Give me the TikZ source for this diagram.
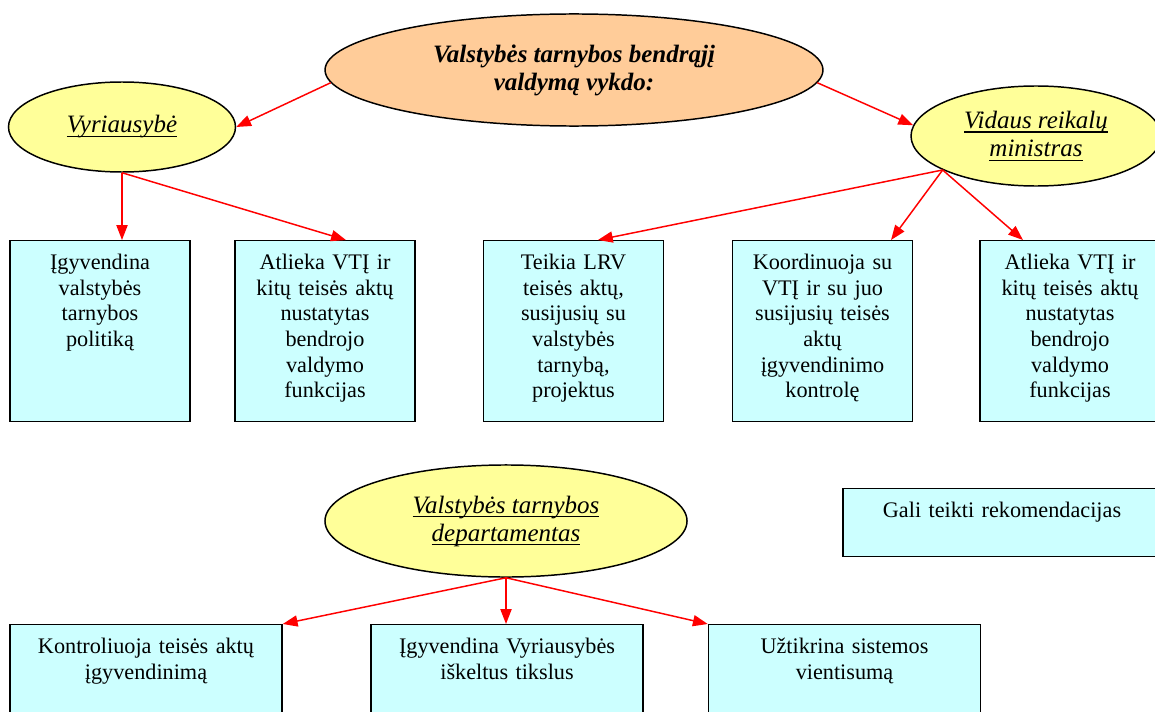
\documentclass[tikz,border=0pt]{standalone}
\usepackage{fontspec}
\setmainfont{Liberation Serif}
\usetikzlibrary{arrows.meta, shapes.geometric}

\definecolor{peach}{HTML}{FFCC99}
\definecolor{paleyellow}{HTML}{FFFF99}
\definecolor{palecyan}{HTML}{CCFFFF}

% underline that runs just below the baseline
\newcommand{\undl}[1]{\setbox0\hbox{#1}\rlap{\rule[-2.4pt]{\wd0}{0.9pt}}\box0}

\begin{document}
\begin{tikzpicture}[
    x=0.54pt, y=-0.54pt,
    font=\fontsize{12}{13.8}\selectfont,
    oval/.style={ellipse, draw, line width=0.8pt, fill=paleyellow, inner sep=0pt,
                 align=center, font=\fontsize{13.5}{15.5}\selectfont\itshape},
    box/.style={draw, line width=0.8pt, fill=palecyan, inner xsep=3pt, inner ysep=0pt,
                align=center, text height=15.7pt},
    tallbox/.style={box, minimum width=97.2pt, text width=91pt, text depth=82pt},
    widebox/.style={box, minimum width=146.9pt, text width=140pt, text depth=38.3pt},
    arr/.style={-{Triangle[length=8pt,width=6pt]}, red, line width=0.8pt},
  ]

  \useasboundingbox (0,0) rectangle (1155,711);
  \clip (0,0) rectangle (1155,711);

  \node[oval, fill=peach, minimum width=268.9pt, minimum height=60.5pt,
        font=\fontsize{13.5}{15.1}\selectfont\bfseries\itshape] (main) at (574,70)
    {Valstybės tarnybos bendrąjį\\valdymą vykdo:};

  \node[oval, minimum width=122.6pt, minimum height=48.6pt] (vyr) at (122,127)
    {\undl{Vyriausybė}};
  \node[oval, minimum width=135pt, minimum height=54pt] (vrm) at (1036,136)
    {\undl{Vidaus reikalų}\\\undl{ministras}};

  \node[tallbox, anchor=north] (b1) at (100,240)
    {Įgyvendina\\valstybės\\tarnybos\\politiką};
  \node[tallbox, anchor=north] (b2) at (325,240)
    {Atlieka VTĮ ir\\kitų teisės aktų\\nustatytas\\bendrojo\\valdymo\\funkcijas};
  \node[tallbox, anchor=north] (b3) at (573.5,240)
    {Teikia LRV\\teisės aktų,\\susijusių su\\valstybės\\tarnybą,\\projektus};
  \node[tallbox, anchor=north] (b4) at (822.5,240)
    {Koordinuoja su\\VTĮ ir su juo\\susijusių teisės\\aktų\\įgyvendinimo\\kontrolę};
  \node[tallbox, anchor=north] (b5) at (1070,240)
    {Atlieka VTĮ ir\\kitų teisės aktų\\nustatytas\\bendrojo\\valdymo\\funkcijas};

  \node[oval, minimum width=195.5pt, minimum height=60.5pt,
        font=\fontsize{13.5}{15.1}\selectfont\itshape] (vtd) at (506,521)
    {\undl{Valstybės tarnybos}\\\undl{departamentas}};

  \node[box, anchor=north, minimum width=171.7pt, text width=160pt, text depth=21pt]
    (rek) at (1002,488) {Gali teikti rekomendacijas};

  \node[widebox, anchor=north] (kA) at (146,624)
    {Kontroliuoja teisės aktų\\įgyvendinimą};
  \node[widebox, anchor=north] (kB) at (507,624)
    {Įgyvendina Vyriausybės\\iškeltus tikslus};
  \node[widebox, anchor=north] (kC) at (844.5,624)
    {Užtikrina sistemos\\vientisumą};

  \draw[arr] (main.183) -- (vyr.east);
  \draw[arr] (main.-3) -- (vrm.175);

  \draw[arr] (vyr.south) -- (vyr.south |- b1.north);
  \draw[arr] (vyr.south) -- ([xshift=11.3pt]b2.north);

  \draw[arr] (vrm.200) -- ([xshift=13.2pt]b3.north);
  \draw[arr] (vrm.200) -- ([xshift=37pt]b4.north);
  \draw[arr] (vrm.200) -- ([xshift=-25.4pt]b5.north);

  \draw[arr] (vtd.south) -- (kA.north east);
  \draw[arr] (vtd.south) -- (vtd.south |- kB.north);
  \draw[arr] (vtd.south) -- (kC.north west);

\end{tikzpicture}
\end{document}
